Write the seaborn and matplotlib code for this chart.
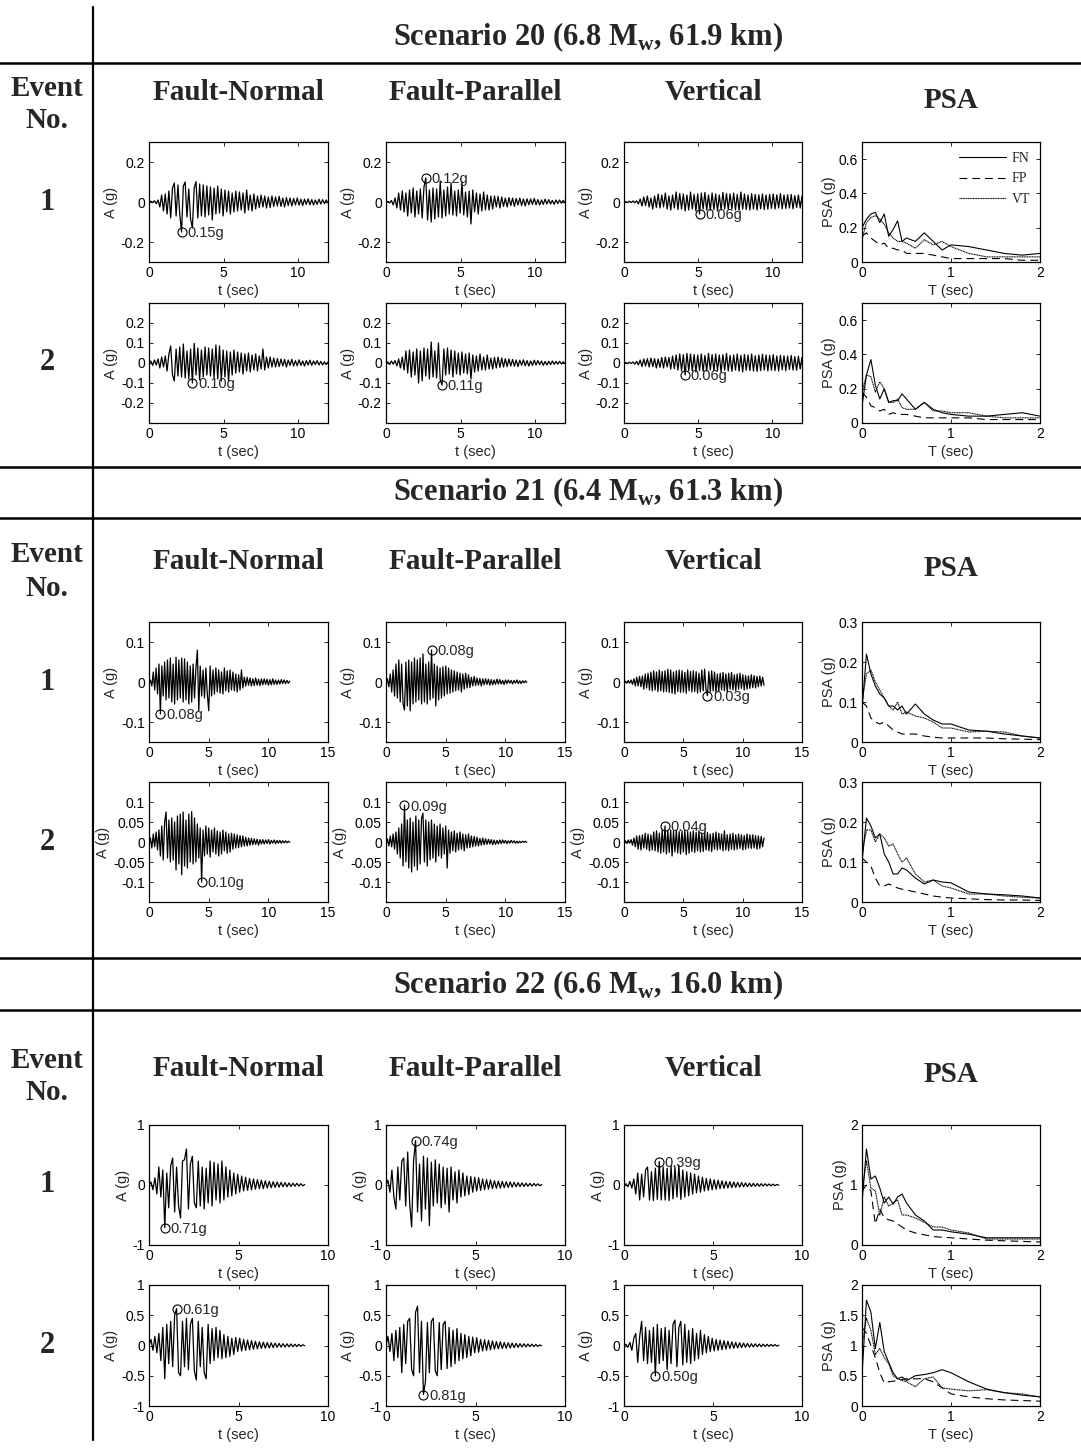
import numpy as np
import matplotlib
matplotlib.use('Agg')
import matplotlib.pyplot as plt
from matplotlib.lines import Line2D
import seaborn as sns

# accelerograms in milli-g, evenly sampled over each record
s20_fn1 = [0, 4, -3, 6, -8, 10, -25, 35, -45, 40,
           -60, 55, -80, 70, 95, -70, 85, -60, -150, 80,
           100, -75, 65, -85, -130, 70, 102, -80, 90, -70,
           85, -75, 80, -65, 75, -90, 70, -60, 80, -55,
           65, -70, 60, -50, 55, -60, 45, -50, 55, -45,
           50, -40, 45, -55, 60, -40, 35, -45, 40, -35,
           30, -28, 35, -25, 30, -30, 25, -28, 30, -22,
           25, -20, 28, -22, 20, -25, 22, -18, 20, -20,
           18, -15, 20, -16, 14, -18, 15, -12, 16, -14,
           12, -15, 10, -12, 14, -10, 12, -8, 10, -5]
s20_fp1 = [0, 3, -5, 8, -15, 20, -30, 45, -40, 55,
           -50, 45, -70, 60, -55, 70, -75, 55, -60, 65,
           -80, 75, 120, -90, 60, -100, 70, -85, 65, -75,
           105, -80, 60, -70, 75, -60, 95, -65, 55, -70,
           60, -55, 100, -65, 50, -75, 55, -110, 60, -50,
           45, -60, 40, -45, 50, -40, 35, -40, 30, -35,
           30, -25, 28, -30, 25, -22, 20, -25, 22, -18,
           20, -22, 18, -15, 20, -18, 15, -20, 16, -14,
           15, -12, 18, -14, 12, -15, 10, -12, 14, -10,
           12, -10, 8, -12, 10, -8, 10, -6, 8, -4]
s20_vt1 = [0, 2, -3, 4, -3, 5, -4, 6, -10, 15,
           -20, 25, -18, 30, -25, 20, -35, 30, -28, 40,
           -30, 35, -25, 45, -35, 30, -40, 35, -30, 50,
           -38, 42, -35, 40, -45, 35, -40, 50, -35, 38,
           -45, 40, -60, 45, -35, 48, -40, 35, -42, 45,
           -38, 40, -45, 35, -40, 48, -35, 42, -38, 40,
           -35, 45, -40, 38, -42, 50, -36, 40, -38, 35,
           -40, 42, -35, 38, -40, 36, -34, 40, -38, 35,
           -36, 38, -32, 40, -35, 36, -30, 42, -34, 35,
           -32, 36, -30, 38, -34, 32, -28, 35, -30, 30]
s20_fn2 = [0, 10, -12, 15, -10, 20, -25, 30, -20, 35,
           -40, 45, 85, -60, -90, 70, -65, 80, -70, 95,
           -75, 60, -80, 70, -100, 98, -60, 75, -85, 65,
           -70, 80, -60, 75, -65, 70, -75, 90, -80, 85,
           -90, 65, -70, 60, -92, 55, -60, 65, -50, 55,
           -45, 50, -55, 45, -40, 50, -45, 40, -35, 45,
           -40, 35, -30, 70, -35, 30, -25, 30, -20, 25,
           -20, 22, -18, 20, -15, 18, -20, 15, -12, 18,
           -15, 12, -14, 16, -12, 10, -15, 12, -10, 14,
           -12, 10, -8, 12, -10, 8, -10, 6, -8, 5]
s20_fp2 = [0, 5, -8, 10, -6, 12, -15, 20, -25, 30,
           -35, 60, -50, 65, -70, 55, -60, 70, -100, 60,
           -90, 75, -65, 70, -80, 105, -70, 60, -75, 100,
           -85, -110, 70, -60, 75, -55, 65, -70, 60, -55,
           50, -60, 55, -50, 45, -55, 50, -80, 40, -45,
           35, -40, 45, -35, 30, -35, 40, -30, 25, -30,
           28, -25, 30, -22, 25, -20, 22, -18, 20, -15,
           18, -16, 15, -18, 14, -12, 16, -14, 12, -15,
           10, -12, 14, -10, 12, -8, 10, -12, 8, -10,
           9, -8, 10, -7, 8, -6, 8, -5, 6, -4]
s20_vt2 = [0, 2, -3, 4, -2, 5, -6, 8, -10, 15,
           -18, 20, -15, 22, -20, 25, -18, 22, -25, 20,
           -22, 28, -25, 30, -20, 28, -30, 35, -28, 40,
           -35, 45, -40, 42, -60, 48, -38, 45, -40, 42,
           -45, 40, -38, 45, -42, 38, -40, 48, -35, 42,
           -40, 45, -38, 40, -45, 42, -36, 48, -40, 38,
           -42, 40, -35, 45, -40, 38, -44, 42, -36, 40,
           -38, 45, -40, 36, -42, 40, -38, 44, -35, 40,
           -40, 38, -36, 42, -38, 35, -40, 38, -34, 36,
           -38, 35, -32, 38, -35, 32, -36, 34, -30, 28]

s21_fn1 = [0, 5, -10, 25, -20, 35, -30, 45, -80, 40,
           -35, 50, -45, 55, -40, 60, -50, 45, -55, 62,
           -45, 55, -40, 60, -50, 58, -45, 50, -55, 40,
           -50, 45, -40, 35, 80, -72, 40, -35, 30, -40,
           35, -30, -72, 40, -35, 30, -30, 35, -25, 30,
           -28, 25, -30, 35, -22, 28, -25, 30, -20, 25,
           -22, 20, -25, 18, -20, 30, -15, 12, -10, 12,
           -8, 10, -10, 8, -9, 10, -8, 7, -9, 8,
           -7, 8, -6, 7, -8, 6, -7, 8, -6, 5,
           -6, 5, -5, 6, -4, 5, -4, 4, -3, 2]
s21_fp1 = [0, 8, -12, 20, -25, 30, -35, 45, -40, 55,
           -50, 45, -55, -70, 50, -60, 55, -72, 50, -55,
           60, -50, 55, -45, 60, -55, 70, -50, 45, -55,
           50, -45, 80, -40, 45, -60, 40, -45, 35, -40,
           38, -35, 40, -30, 35, -28, 30, -25, 28, -22,
           25, -20, 22, -25, 20, -18, 22, -15, 18, -14,
           12, -10, 14, -9, 10, -8, 9, -10, 8, -7,
           8, -6, 7, -8, 6, -7, 5, -6, 7, -5,
           6, -5, 4, -6, 5, -4, 5, -3, 4, -5,
           4, -3, 5, -4, 3, -4, 3, -2, 3, -1]
s21_vt1 = [0, 2, -3, 4, -3, 5, -6, 8, -10, 12,
           -10, 14, -12, 15, -18, 20, -15, 22, -20, 25,
           -22, 28, -20, 25, -24, 30, -22, 26, -25, 28,
           -24, 32, -26, 30, -28, 25, -30, 28, -24, 30,
           -26, 28, -25, 24, -28, 30, -22, 26, -25, 28,
           -24, 26, -28, 22, -25, 30, -22, 32, -20, -34,
           26, -24, 28, -22, 25, -26, 20, -24, 22, -20,
           24, -22, 20, -25, 22, -18, 24, -20, 18, -22,
           20, -18, 22, -16, 18, -20, 16, -18, 15, -16,
           18, -14, 16, -15, 14, -12, 15, -10, 12, -8]
s21_fn2 = [0, 10, -15, 20, -12, 25, -20, 30, -35, 40,
           -45, 50, 75, -40, 55, -50, 60, -45, 50, -70,
           65, -55, 70, -82, 75, -60, 55, -65, 70, -50,
           76, -55, 60, -50, 45, -40, 35, -100, 30, -35,
           40, -30, 35, -38, 30, -25, 35, -30, 28, -35,
           25, -30, 30, -22, 25, -28, 20, -25, 22, -18,
           20, -15, 18, -14, 16, -12, 15, -10, 12, -10,
           10, -8, 9, -7, 8, -6, 7, -8, 6, -5,
           6, -5, 5, -4, 6, -5, 4, -3, 5, -4,
           4, -3, 4, -3, 3, -2, 3, -2, 2, -1]
s21_fp2 = [0, 8, -10, 15, -12, 20, -18, 25, -30, 35,
           -40, 45, -60, 92, -50, 55, -65, 60, -75, 50,
           -60, 65, -70, 55, -55, 60, 72, -50, 55, -60,
           50, -45, 55, -40, 45, -50, 40, -35, 45, -40,
           35, -30, 40, -65, 30, -28, 25, -22, 28, -25,
           22, -20, 25, -18, 20, -22, 18, -15, 20, -14,
           15, -12, 14, -10, 12, -10, 9, -8, 10, -7,
           8, -6, 7, -5, 6, -7, 5, -6, 4, -5,
           5, -4, 5, -3, 4, -4, 3, -3, 4, -2,
           3, -3, 2, -3, 2, -2, 2, -1, 2, -1]
s21_vt2 = [0, 3, -4, 5, -3, 6, -8, 10, -12, 15,
           -18, 16, -20, 18, -15, 22, -18, 20, -22, 18,
           -20, 25, -22, 28, -25, 22, -28, 30, -25, 40,
           -30, 28, -26, 30, -35, 28, -25, 30, -28, 26,
           -30, 28, -25, 30, -32, 26, -28, 25, -24, 28,
           -26, 24, -22, 28, -25, 22, -24, 26, -20, 24,
           -22, 20, -24, 22, -18, 25, -20, 22, -18, 20,
           -22, 28, -20, 18, -22, 20, -18, 22, -20, 18,
           -18, 20, -16, 18, -20, 16, -18, 20, -15, 18,
           -16, 18, -15, 16, -18, 15, -16, 14, -12, 10]

s22_fn1 = [0, 50, -80, 120, -150, 300, -200, 250, -710, 200,
           -380, 320, 450, -450, 300, -350, -550, 400, 420, 600,
           -400, 350, 480, -300, -380, 400, -350, 300, -400, 280,
           -300, 400, -350, 380, -250, 350, -300, 400, -250, 300,
           -200, 250, -180, 200, -150, 180, -120, 150, -100, 130,
           -90, 110, -80, 100, -70, 90, -60, 80, -60, 70,
           -50, 60, -45, 55, -40, 50, -35, 45, -30, 40,
           -30, 35, -25, 30, -20, 28, -18, 22, -15, 10]
s22_fp1 = [0, 80, -120, 250, -200, -400, 300, -250, 400, 450,
           -350, 550, -300, -700, 400, 740, -450, 350, -600, 480,
           -400, 450, -680, 380, -350, 420, -300, 350, -380, 300,
           -320, 280, -450, 300, -250, 220, -300, 250, -200, 200,
           -180, 150, -160, 140, -120, 130, -100, 120, -90, 100,
           -80, 90, -70, 85, -60, 70, -55, 65, -50, 60,
           -45, 55, -40, 50, -35, 45, -30, 40, -28, 35,
           -25, 30, -22, 28, -20, 25, -15, 20, -12, 8]
s22_vt1 = [0, 20, -30, 60, -50, 100, -150, 200, -250, 180,
           -200, 250, 300, -250, 220, -260, 280, -240, 390, -250,
           300, -250, 280, -260, 320, -230, 300, -200, 330, -240,
           250, -200, 220, -180, 200, -150, 180, -130, 150, -120,
           130, -100, 110, -90, 100, -80, 90, -70, 80, -60,
           70, -55, 60, -50, 55, -45, 50, -40, 45, -35,
           40, -30, 35, -28, 30, -25, 28, -22, 25, -20,
           22, -18, 20, -15, 18, -14, 15, -12, 10, -5]
s22_fn2 = [0, 100, -80, 150, -120, 200, -250, 300, -550, 350,
           -300, 400, -350, 500, 610, -450, -500, 400, -350, 450,
           -400, 350, 450, -420, -570, 400, -350, 300, -450, -550,
           350, -300, 280, -250, 300, -200, 250, -220, 180, -200,
           150, -180, 120, -150, 130, -100, 120, -90, 100, -80,
           90, -70, 80, -60, 70, -55, 60, -50, 55, -45,
           50, -40, 45, -35, 40, -30, 35, -28, 30, -25,
           28, -22, 25, -20, 22, -18, 20, -15, 12, -5]
s22_fp2 = [0, 150, -100, 200, -250, 250, -200, 300, -450, 350,
           -300, 400, 450, -400, -500, 550, 650, -450, 400, -810,
           -600, 380, -450, 400, 450, -420, -500, 380, -400, 350,
           400, -380, 300, -350, 250, -300, 280, -250, 200, -220,
           180, -200, 150, -170, 140, -120, 130, -110, 100, -90,
           95, -80, 85, -70, 75, -60, 65, -55, 60, -50,
           50, -45, 45, -40, 40, -35, 35, -30, 30, -25,
           28, -22, 25, -20, 22, -18, 18, -15, 10, -5]
s22_vt2 = [0, 20, -30, 50, -80, 120, 200, -280, 150, 400,
           -250, 300, -300, 250, -280, 300, -500, 350, -300, 280,
           -250, 300, -400, 250, -300, 350, 420, -350, 300, 400,
           -320, 350, -280, 250, -300, 280, -250, 200, -220, 250,
           -150, 180, -120, 150, -100, 120, -90, 100, -80, 90,
           -70, 80, -60, 70, -50, 60, -45, 50, -40, 45,
           -35, 40, -30, 35, -28, 30, -25, 28, -22, 25,
           -20, 22, -18, 20, -15, 18, -12, 15, -10, 5]

# PSA (g) on a common period grid (sec)
periods = [0, 0.05, 0.1, 0.15, 0.2, 0.25, 0.3, 0.35, 0.4, 0.45, 0.5,
           0.6, 0.7, 0.8, 0.9, 1.0, 1.2, 1.4, 1.6, 1.8, 2.0]
s20_psa1_fn = [0.20, 0.25, 0.28, 0.29, 0.23, 0.28, 0.15, 0.19, 0.24, 0.12, 0.14,
               0.12, 0.17, 0.12, 0.07, 0.10, 0.09, 0.07, 0.05, 0.04, 0.05]
s20_psa1_fp = [0.15, 0.17, 0.14, 0.12, 0.10, 0.11, 0.08, 0.08, 0.07, 0.07, 0.05,
               0.05, 0.05, 0.04, 0.03, 0.02, 0.02, 0.02, 0.02, 0.01, 0.01]
s20_psa1_vt = [0.13, 0.23, 0.26, 0.27, 0.25, 0.22, 0.17, 0.14, 0.12, 0.12, 0.11,
               0.08, 0.13, 0.10, 0.12, 0.09, 0.05, 0.03, 0.03, 0.03, 0.03]
s20_psa2_fn = [0.10, 0.28, 0.37, 0.22, 0.14, 0.20, 0.12, 0.13, 0.13, 0.17, 0.14,
               0.08, 0.12, 0.08, 0.06, 0.05, 0.04, 0.04, 0.05, 0.06, 0.04]
s20_psa2_fp = [0.18, 0.15, 0.10, 0.09, 0.07, 0.08, 0.05, 0.06, 0.05, 0.05, 0.05,
               0.04, 0.03, 0.03, 0.03, 0.03, 0.03, 0.02, 0.02, 0.02, 0.02]
s20_psa2_vt = [0.18, 0.28, 0.27, 0.18, 0.24, 0.20, 0.12, 0.12, 0.14, 0.09, 0.08,
               0.08, 0.12, 0.07, 0.07, 0.06, 0.06, 0.04, 0.03, 0.03, 0.03]
s21_psa1_fn = [0.08, 0.22, 0.17, 0.14, 0.12, 0.11, 0.09, 0.09, 0.08, 0.09, 0.07,
               0.095, 0.07, 0.055, 0.045, 0.045, 0.03, 0.027, 0.02, 0.015, 0.01]
s21_psa1_fp = [0.10, 0.09, 0.06, 0.05, 0.045, 0.05, 0.04, 0.03, 0.025, 0.02, 0.02,
               0.02, 0.015, 0.012, 0.01, 0.01, 0.01, 0.01, 0.008, 0.007, 0.006]
s21_psa1_vt = [0.10, 0.17, 0.18, 0.15, 0.13, 0.11, 0.09, 0.08, 0.10, 0.07, 0.075,
               0.065, 0.06, 0.05, 0.035, 0.035, 0.025, 0.027, 0.025, 0.015, 0.01]
s21_psa2_fn = [0.10, 0.21, 0.19, 0.16, 0.17, 0.12, 0.10, 0.07, 0.07, 0.085, 0.08,
               0.06, 0.045, 0.055, 0.05, 0.048, 0.025, 0.02, 0.018, 0.015, 0.01]
s21_psa2_fp = [0.11, 0.10, 0.09, 0.06, 0.04, 0.04, 0.045, 0.04, 0.035, 0.032, 0.03,
               0.025, 0.02, 0.015, 0.012, 0.01, 0.008, 0.006, 0.005, 0.005, 0.004]
s21_psa2_vt = [0.12, 0.18, 0.18, 0.15, 0.17, 0.16, 0.14, 0.145, 0.12, 0.10, 0.11,
               0.07, 0.05, 0.055, 0.04, 0.035, 0.02, 0.02, 0.015, 0.012, 0.01]
s22_psa1_fn = [0.70, 1.60, 1.10, 1.15, 0.95, 0.70, 0.80, 0.68, 0.80, 0.85, 0.70,
               0.50, 0.40, 0.25, 0.25, 0.22, 0.18, 0.12, 0.12, 0.12, 0.12]
s22_psa1_fp = [0.90, 1.00, 0.90, 0.35, 0.60, 0.45, 0.42, 0.40, 0.35, 0.30, 0.25,
               0.20, 0.17, 0.14, 0.13, 0.12, 0.10, 0.08, 0.07, 0.06, 0.05]
s22_psa1_vt = [0.90, 1.40, 0.95, 0.90, 0.50, 0.80, 0.65, 0.70, 0.75, 0.50, 0.50,
               0.45, 0.38, 0.30, 0.30, 0.25, 0.20, 0.10, 0.10, 0.10, 0.10]
s22_psa2_fn = [0.50, 1.75, 1.55, 0.95, 1.38, 0.90, 0.72, 0.55, 0.45, 0.48, 0.42,
               0.50, 0.52, 0.55, 0.60, 0.55, 0.40, 0.28, 0.22, 0.18, 0.15]
s22_psa2_fp = [1.30, 1.20, 1.00, 0.80, 0.55, 0.38, 0.40, 0.41, 0.42, 0.44, 0.45,
               0.45, 0.45, 0.40, 0.30, 0.20, 0.15, 0.12, 0.10, 0.09, 0.08]
s22_psa2_vt = [1.00, 1.45, 1.25, 0.85, 0.95, 0.80, 0.70, 0.50, 0.45, 0.42, 0.40,
               0.32, 0.45, 0.48, 0.30, 0.28, 0.25, 0.27, 0.22, 0.20, 0.15]

titles = [r'Scenario 20 (6.8 M$_{\mathbf{w}}$, 61.9 km)',
          r'Scenario 21 (6.4 M$_{\mathbf{w}}$, 61.3 km)',
          r'Scenario 22 (6.6 M$_{\mathbf{w}}$, 16.0 km)']
col_titles = ['Fault-Normal', 'Fault-Parallel', 'Vertical', 'PSA']
durations = [12.0, 11.8, 8.7]
traces = [
    [[s20_fn1, s20_fp1, s20_vt1], [s20_fn2, s20_fp2, s20_vt2]],
    [[s21_fn1, s21_fp1, s21_vt1], [s21_fn2, s21_fp2, s21_vt2]],
    [[s22_fn1, s22_fp1, s22_vt1], [s22_fn2, s22_fp2, s22_vt2]],
]
spectra = [
    [[s20_psa1_fn, s20_psa1_fp, s20_psa1_vt], [s20_psa2_fn, s20_psa2_fp, s20_psa2_vt]],
    [[s21_psa1_fn, s21_psa1_fp, s21_psa1_vt], [s21_psa2_fn, s21_psa2_fp, s21_psa2_vt]],
    [[s22_psa1_fn, s22_psa1_fp, s22_psa1_vt], [s22_psa2_fn, s22_psa2_fp, s22_psa2_vt]],
]

# axis setup per scenario
t_max = [12, 15, 10]
t_ticks = [[0, 5, 10], [0, 5, 10, 15], [0, 5, 10]]
a_lim = [0.3, 0.15, 1.0]
a_ticks = [[[-0.2, 0, 0.2], [-0.2, -0.1, 0, 0.1, 0.2]],
           [[-0.1, 0, 0.1], [-0.1, -0.05, 0, 0.05, 0.1]],
           [[-1, 0, 1], [-1, -0.5, 0, 0.5, 1]]]
psa_lim = [0.7, 0.3, 2.0]
psa_ticks = [[[0, 0.2, 0.4, 0.6], [0, 0.2, 0.4, 0.6]],
             [[0, 0.1, 0.2, 0.3], [0, 0.1, 0.2, 0.3]],
             [[0, 1, 2], [0, 0.5, 1, 1.5, 2]]]

# layout in pixels
W, H = 1081, 1448
cols_px = [(149, 328), (386, 565), (624, 802), (862, 1040)]
rows_px = [[(142, 262), (303, 423)], [(622, 742), (782, 902)], [(1125, 1245), (1285, 1406)]]
title_y = [37, 492, 985]
hlines_y = [63, 467, 518, 958, 1010]
event_y = [(88, 120), (555, 588), (1060, 1093)]
head_y = [93, 561, 1068]

sns.set_theme(style='ticks')
plt.rcParams['font.family'] = ['Liberation Sans', 'DejaVu Sans']
plt.rcParams['mathtext.fontset'] = 'custom'
plt.rcParams['mathtext.rm'] = 'Liberation Serif'
plt.rcParams['mathtext.bf'] = 'Liberation Serif:bold'

fig = plt.figure(figsize=(W / 100, H / 100), dpi=100)


def fx(x):
    return x / W


def fy(y):
    return 1 - y / H


def fmt(v):
    return f'{v:g}'


def style_axes(ax, xmax, xticks, ylo, yhi, yticks, xlabel, ylabel):
    ax.set_xlim(0, xmax)
    ax.set_ylim(ylo, yhi)
    ax.set_xticks(xticks)
    ax.set_xticklabels([fmt(v) for v in xticks])
    ax.set_yticks(yticks)
    ax.set_yticklabels([fmt(v) for v in yticks])
    ax.set_xlabel(xlabel, fontsize=10.5, labelpad=3)
    ax.set_ylabel(ylabel, fontsize=10.5, labelpad=2)
    ax.tick_params(direction='in', top=True, right=True, length=3, width=0.6,
                   labelsize=10, pad=3, colors='black')
    for s in ax.spines.values():
        s.set_linewidth(0.9)
        s.set_color('black')


serif = 'Liberation Serif'
for si in range(3):
    fig.text(fx(588), fy(title_y[si]), titles[si], ha='center', va='center',
             family=serif, weight='bold', fontsize=22)
    fig.text(fx(47), fy(event_y[si][0]), 'Event', ha='center', va='center',
             family=serif, weight='bold', fontsize=21)
    fig.text(fx(47), fy(event_y[si][1]), 'No.', ha='center', va='center',
             family=serif, weight='bold', fontsize=21)
    for ci, name in enumerate(col_titles):
        yy = head_y[si] + (7 if name == 'PSA' else 0)
        fig.text(fx(sum(cols_px[ci]) / 2), fy(yy), name, ha='center', va='center',
                 family=serif, weight='bold', fontsize=21)

    for ri in range(2):
        top, bot = rows_px[si][ri]
        fig.text(fx(47), fy((top + bot) / 2), str(ri + 1), ha='center', va='center',
                 family=serif, weight='bold', fontsize=22)
        for ci in range(3):
            l, r = cols_px[ci]
            ax = fig.add_axes([fx(l), fy(bot), (r - l) / W, (bot - top) / H])
            a = np.array(traces[si][ri][ci]) / 1000.0
            t = np.linspace(0, durations[si], len(a))
            sns.lineplot(x=t, y=a, ax=ax, color='black', linewidth=0.9,
                         estimator=None, sort=False)
            k = int(np.argmax(np.abs(a)))
            ax.plot(t[k], a[k], 'o', ms=6.5, mfc='none', mec='black', mew=0.8)
            ax.annotate(f'{abs(a[k]):.2f}g', (t[k], a[k]), xytext=(4, -1),
                        textcoords='offset points', va='center', ha='left', fontsize=10.5)
            style_axes(ax, t_max[si], t_ticks[si], -a_lim[si], a_lim[si],
                       a_ticks[si][ri], 't (sec)', 'A (g)')

        l, r = cols_px[3]
        ax = fig.add_axes([fx(l), fy(bot), (r - l) / W, (bot - top) / H])
        fn, fp, vt = spectra[si][ri]
        sns.lineplot(x=periods, y=fn, ax=ax, color='black', linewidth=0.8,
                     estimator=None, sort=False, label='FN')
        sns.lineplot(x=periods, y=fp, ax=ax, color='black', linewidth=0.8,
                     linestyle=(0, (7, 4.5)), estimator=None, sort=False, label='FP')
        sns.lineplot(x=periods, y=vt, ax=ax, color='black', linewidth=0.8,
                     linestyle=(0, (1, 0.5)), estimator=None, sort=False, label='VT')
        if si == 0 and ri == 0:
            ax.legend(loc='upper right', frameon=False, handlelength=3.4,
                      labelspacing=0.55, borderaxespad=0.3, handletextpad=0.4,
                      prop={'family': serif, 'size': 10})
        else:
            ax.get_legend().remove()
        style_axes(ax, 2, [0, 1, 2], 0, psa_lim[si], psa_ticks[si][ri],
                   'T (sec)', 'PSA (g)')

for y in hlines_y:
    fig.add_artist(Line2D([0, 1], [fy(y), fy(y)], transform=fig.transFigure,
                          color='black', linewidth=1.8))
fig.add_artist(Line2D([fx(93), fx(93)], [fy(7), fy(1440)], transform=fig.transFigure,
                      color='black', linewidth=1.6))

fig.savefig('out.png', dpi=100)
